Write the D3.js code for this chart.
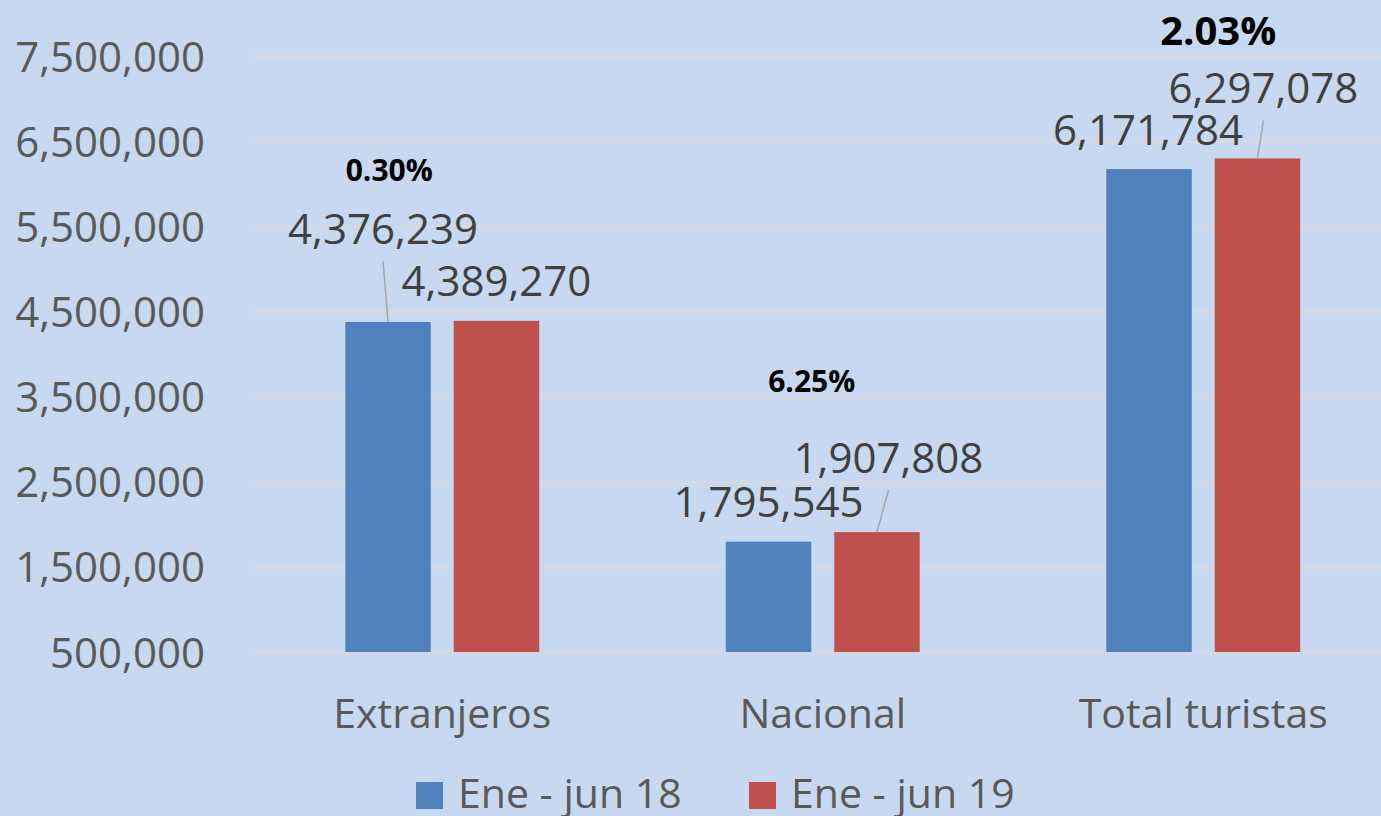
<!DOCTYPE html>
<html>
<head>
<meta charset="utf-8">
<script src="https://cdn.jsdelivr.net/npm/d3@7/dist/d3.min.js"></script>
<style>
  html, body { margin: 0; padding: 0; background: #C6D9F0; }
  svg { display: block; }
  text { font-family: "Open Sans", "Noto Sans", sans-serif; }
</style>
</head>
<body>
<svg id="chart" width="1381" height="816"></svg>
<script>
// ---- data ----
const categories = ["Extranjeros", "Nacional", "Total turistas"];
const seriesNames = ["Ene - jun 18", "Ene - jun 19"];
const values2018 = [4376239, 1795545, 6171784];
const values2019 = [4389270, 1907808, 6297078];
const growthLabels = ["0.30%", "6.25%", "2.03%"];
const yTicks = [500000, 1500000, 2500000, 3500000, 4500000, 5500000, 6500000, 7500000];
const seriesColors = ["#4F81BD", "#C0504D"];

// ---- layout (label placement offsets, px) ----
// [dx, dyFromBarTop, leader]
const labelLayout18 = [[-5, -78, true], [0, -25, false], [-1, -24, false]];
const labelLayout19 = [[0, -25, false], [11.5, -59, true], [6, -55, true]];
const growthLayout = [[-53, -140, 30], [-11, -140, 30], [15, -113, 40]];

const svg = d3.select("#chart");
const W = 1381, H = 816;
svg.append("rect").attr("width", W).attr("height", H).attr("fill", "#C6D9F0");

const plotLeft = 252, plotRight = 252 + 3 * 380.5;
const y = d3.scaleLinear().domain([500000, 7500000]).range([652, 56]);
const x0 = d3.scaleBand().domain(categories).range([plotLeft, plotRight]).paddingInner(0).paddingOuter(0);
const x1 = d3.scaleBand().domain(seriesNames).range([0, x0.bandwidth()]).paddingInner(0.212).paddingOuter(0.86);

const fmt = d3.format(",");

// gridlines
svg.append("g").selectAll("line").data(yTicks).join("line")
  .attr("x1", plotLeft).attr("x2", W)
  .attr("y1", d => Math.round(y(d)) + 0.5).attr("y2", d => Math.round(y(d)) + 0.5)
  .attr("stroke", "#D9D9D9").attr("stroke-width", 2);

// y axis labels
const yAxis = d3.axisLeft(y).tickValues(yTicks).tickFormat(fmt).tickSize(0).tickPadding(0);
const gy = svg.append("g").attr("transform", "translate(205,0)").call(yAxis);
gy.select(".domain").remove();
gy.selectAll("text")
  .attr("font-family", "'Open Sans', sans-serif")
  .attr("font-size", 42).attr("fill", "#595959").attr("dy", "0.36em");

// x axis labels
const xAxis = d3.axisBottom(x0).tickSize(0).tickPadding(0);
const gx = svg.append("g").attr("transform", "translate(0,652)").call(xAxis);
gx.select(".domain").remove();
gx.selectAll("text")
  .attr("font-family", "'Open Sans', sans-serif")
  .attr("font-size", 41).attr("fill", "#595959").attr("dy", null).attr("y", 76);

// bars
const rows = categories.map((c, i) => ({ cat: c, vals: [values2018[i], values2019[i]] }));
const groups = svg.append("g").selectAll("g").data(rows).join("g")
  .attr("transform", d => `translate(${x0(d.cat)},0)`);
groups.selectAll("rect").data(d => d.vals.map((v, j) => ({ v, s: seriesNames[j], j })))
  .join("rect")
  .attr("x", d => x1(d.s))
  .attr("y", d => y(d.v))
  .attr("width", x1.bandwidth())
  .attr("height", d => y(500000) - y(d.v))
  .attr("fill", d => seriesColors[d.j]);

// data labels
function addLabels(vals, layout, sIdx) {
  vals.forEach((v, i) => {
    const cx = x0(categories[i]) + x1(seriesNames[sIdx]) + x1.bandwidth() / 2;
    const top = y(v);
    const [dx, dy, leader] = layout[i];
    const tx = cx + dx, ty = top + dy;
    if (leader) {
      svg.append("line")
        .attr("x1", tx).attr("y1", ty + 17)
        .attr("x2", cx).attr("y2", top)
        .attr("stroke", "#A6A6A6").attr("stroke-width", 1.5);
    }
    svg.append("text")
      .attr("x", tx).attr("y", ty)
      .attr("text-anchor", "middle")
      .attr("font-size", 42).attr("fill", "#404040")
      .text(fmt(v));
  });
}
addLabels(values2018, labelLayout18, 0);
addLabels(values2019, labelLayout19, 1);

// growth labels
growthLabels.forEach((g, i) => {
  const cx = x0(categories[i]) + x0.bandwidth() / 2;
  const top = y(Math.max(values2018[i], values2019[i]));
  const [dx, dy, fs] = growthLayout[i];
  svg.append("text")
    .attr("x", cx + dx).attr("y", top + dy)
    .attr("text-anchor", "middle")
    .attr("font-size", fs).attr("font-weight", "bold").attr("fill", "#000")
    .text(g);
});

// legend
const legendX = [416, 749];
const legend = svg.append("g").selectAll("g").data(seriesNames).join("g")
  .attr("transform", (d, i) => `translate(${legendX[i]},782)`);
legend.append("rect").attr("width", 27).attr("height", 27).attr("fill", (d, i) => seriesColors[i]);
legend.append("text").attr("x", 42).attr("y", 26)
  .attr("font-size", 41).attr("fill", "#595959").text(d => d);
</script>
</body>
</html>
